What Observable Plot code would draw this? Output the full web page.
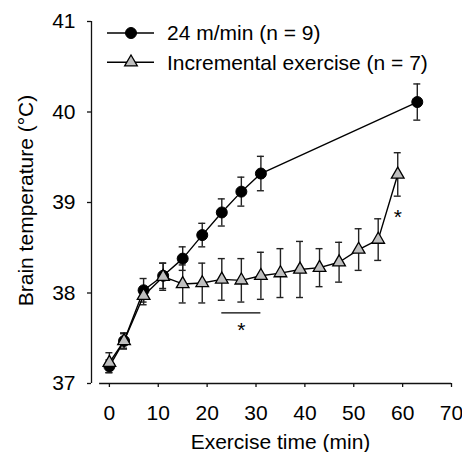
<!DOCTYPE html>
<html><head><meta charset="utf-8">
<script src="https://cdn.jsdelivr.net/npm/d3@7"></script>
<script src="https://cdn.jsdelivr.net/npm/@observablehq/plot@0.6"></script>
<style>
body{margin:0;background:#fff;}
#wrap{position:relative;width:462px;height:452px;font-family:"Liberation Sans",Arial,sans-serif;}
#legend{position:absolute;left:0;top:0;}
</style></head><body><div id="wrap"></div>
<script>
// ---- data ----
const seriesNames = ["24 m/min (n = 9)", "Incremental exercise (n = 7)"];
const timeA = [0, 3, 7, 11, 15, 19, 23, 27, 31, 63];
const meanA = [37.19, 37.47, 38.03, 38.19, 38.38, 38.64, 38.89, 39.12, 39.32, 40.11];
const semA  = [0.07, 0.08, 0.13, 0.14, 0.13, 0.13, 0.15, 0.16, 0.19, 0.20];
const timeB = [0, 3, 7, 11, 15, 19, 23, 27, 31, 35, 39, 43, 47, 51, 55, 59];
const meanB = [37.23, 37.47, 37.97, 38.18, 38.10, 38.11, 38.15, 38.14, 38.19, 38.22, 38.26, 38.28, 38.34, 38.48, 38.59, 39.31];
const semB  = [0.11, 0.09, 0.10, 0.15, 0.21, 0.22, 0.23, 0.24, 0.26, 0.27, 0.31, 0.21, 0.22, 0.23, 0.23, 0.24];
const xTicks = [0, 10, 20, 30, 40, 50, 60, 70];
const yTicks = [37, 38, 39, 40, 41];
const sigBarStart = [23], sigBarEnd = [31], sigBarLevel = [37.78];
const starTime = [27, 59], starLevel = [37.64, 38.89];
const xTitle = "Exercise time (min)";
const yTitle = "Brain temperature (°C)";

// ---- build ----
const A = timeA.map((t, i) => ({t, v: meanA[i], lo: meanA[i] - semA[i], hi: meanA[i] + semA[i]}));
const B = timeB.map((t, i) => ({t, v: meanB[i], lo: meanB[i] - semB[i], hi: meanB[i] + semB[i]}));
const sig = sigBarStart.map((s, i) => ({x1: s, x2: sigBarEnd[i], y: sigBarLevel[i]}));
const stars = starTime.map((t, i) => ({t, v: starLevel[i]}));

const FONT = '"Liberation Sans", Arial, sans-serif';
const FS = 21;
const xDomain = [-3.66, 70];
const yDomain = [37, 41];
const ink = "#111";

const chart = Plot.plot({
  width: 462, height: 452,
  marginLeft: 91, marginRight: 11, marginTop: 21, marginBottom: 69,
  style: {fontFamily: FONT, fontSize: FS + "px", color: "#000", background: "#fff", overflow: "visible"},
  x: {domain: xDomain},
  y: {domain: yDomain},
  marks: [
    Plot.ruleX([xDomain[0]], {y1: yDomain[0], y2: yDomain[1], stroke: ink, strokeWidth: 1.3}),
    Plot.ruleY([yDomain[0]], {x1: -2, x2: xTicks[xTicks.length - 1], stroke: ink, strokeWidth: 1.3}),
    Plot.axisX(xTicks, {tickSize: 4, tickPadding: 18, label: null, tickFormat: d => String(d), stroke: ink, strokeWidth: 1.3, fill: "#000"}),
    Plot.axisY(yTicks, {tickSize: 4, tickPadding: 12, label: null, tickFormat: d => String(d), stroke: ink, strokeWidth: 1.3, fill: "#000"}),
    // error bars
    Plot.ruleX(A, {x: "t", y1: "lo", y2: "hi", stroke: "#222", strokeWidth: 1.4}),
    Plot.ruleY(A, {x1: "t", x2: "t", y: "hi", insetLeft: -3.5, insetRight: -3.5, stroke: "#222", strokeWidth: 1.4}),
    Plot.ruleY(A, {x1: "t", x2: "t", y: "lo", insetLeft: -3.5, insetRight: -3.5, stroke: "#222", strokeWidth: 1.4}),
    Plot.ruleX(B, {x: "t", y1: "lo", y2: "hi", stroke: "#222", strokeWidth: 1.4}),
    Plot.ruleY(B, {x1: "t", x2: "t", y: "hi", insetLeft: -3.5, insetRight: -3.5, stroke: "#222", strokeWidth: 1.4}),
    Plot.ruleY(B, {x1: "t", x2: "t", y: "lo", insetLeft: -3.5, insetRight: -3.5, stroke: "#222", strokeWidth: 1.4}),
    // lines
    Plot.line(A, {x: "t", y: "v", stroke: "#000", strokeWidth: 1.4}),
    Plot.line(B, {x: "t", y: "v", stroke: "#000", strokeWidth: 1.4}),
    // markers
    Plot.dot(A, {x: "t", y: "v", r: 5.5, fill: "#000", stroke: "#000", strokeWidth: 1}),
    Plot.dot(B, {x: "t", y: "v", symbol: "triangle", r: 4.7, fill: "#bfbfbf", stroke: "#000", strokeWidth: 1.3}),
    // significance
    Plot.ruleY(sig, {x1: "x1", x2: "x2", y: "y", stroke: "#000", strokeWidth: 1.4}),
    Plot.text(stars, {x: "t", y: "v", text: () => "*", fontSize: 21, dy: 5, fill: "#000"}),
    // titles
    Plot.text([xTitle], {frameAnchor: "bottom", text: d => d, dy: 58.3, dx: 9, textAnchor: "middle", lineAnchor: "middle", fontSize: FS, fill: "#000"}),
    Plot.text([yTitle], {frameAnchor: "left", text: d => d, rotate: -90, dx: -65.7, dy: -2, textAnchor: "middle", lineAnchor: "middle", fontSize: FS, fill: "#000"})
  ]
});
const wrap = document.getElementById("wrap");
wrap.appendChild(chart);

// ---- legend overlay ----
const leg = d3.select(wrap).append("svg").attr("id", "legend").attr("width", 462).attr("height", 80);
const rows = [33, 62.3];
seriesNames.forEach((name, i) => {
  const g = leg.append("g").attr("transform", `translate(0,${rows[i]})`);
  g.append("line").attr("x1", 107).attr("x2", 154).attr("y1", 0).attr("y2", 0).attr("stroke", "#000").attr("stroke-width", 1.4);
  if (i === 0) {
    g.append("circle").attr("cx", 131).attr("cy", 0).attr("r", 5.5).attr("fill", "#000").attr("stroke", "#000");
  } else {
    g.append("path").attr("transform", "translate(131,0)").attr("d", d3.symbol(d3.symbolTriangle, 4.7 * 4.7 * Math.PI)()).attr("fill", "#bfbfbf").attr("stroke", "#000").attr("stroke-width", 1.3);
  }
  g.append("text").attr("x", 167).attr("y", 7.4).attr("font-size", FS).attr("font-family", FONT).attr("fill", "#000").text(name);
});
</script>
</body></html>
